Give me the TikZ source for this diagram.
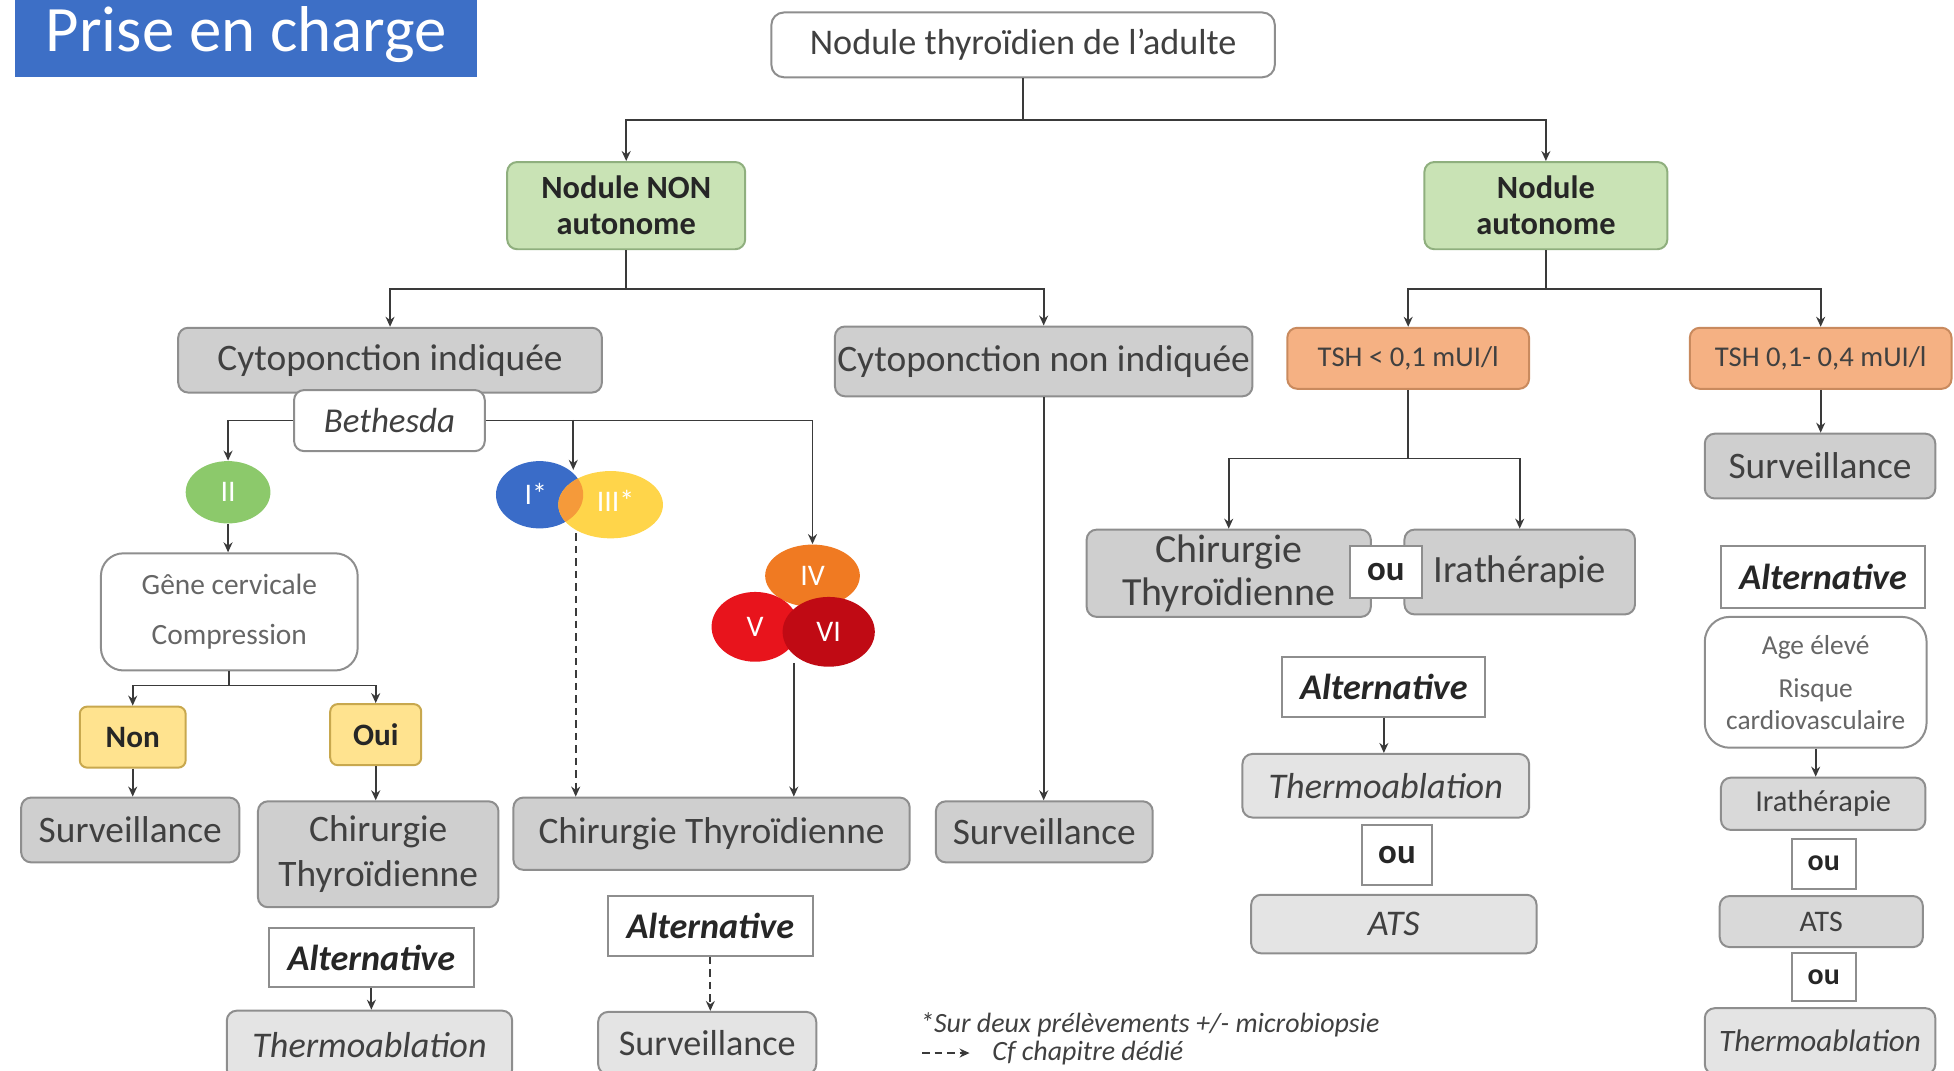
\documentclass[tikz,border=0pt]{standalone}
\usepackage{fontspec}
\setmainfont{Carlito}
\usetikzlibrary{shapes.geometric,arrows.meta}

\definecolor{ink}{HTML}{404040}
\definecolor{wirecol}{HTML}{3A3A3A}
\definecolor{titleblue}{HTML}{3D6FC6}
\definecolor{greenfill}{HTML}{C9E3B5}
\definecolor{greenedge}{HTML}{8FAF7E}
\definecolor{grayfill}{HTML}{CFCFCF}
\definecolor{grayedge}{HTML}{8E8E8E}
\definecolor{lightfill}{HTML}{E4E4E4}
\definecolor{orangefill}{HTML}{F5B183}
\definecolor{orangeedge}{HTML}{C98A5E}
\definecolor{yellowfill}{HTML}{FFE38F}
\definecolor{yellowedge}{HTML}{C8A84E}
\definecolor{cIIcol}{HTML}{8CC96B}
\definecolor{cIcol}{HTML}{3A6CC8}
\definecolor{cIIIcol}{HTML}{FFD54A}
\definecolor{cmix}{HTML}{F59A3A}
\definecolor{cIVcol}{HTML}{F07A22}
\definecolor{cVcol}{HTML}{E8141C}
\definecolor{cVIcol}{HTML}{C00A14}

\tikzset{
  box/.style={draw=grayedge, line width=0.8pt, inner sep=0pt, align=center, text=ink},
  graybox/.style={box, fill=grayfill, rounded corners=4pt, font=\fontsize{15}{18}\selectfont},
  lightbox/.style={box, fill=lightfill, rounded corners=4pt, font=\itshape\fontsize{14.5}{17}\selectfont},
  whitebox/.style={box, fill=white, rounded corners=5pt},
  altbox/.style={box, fill=white, text=black!85, font=\bfseries\itshape\fontsize{14.5}{17}\selectfont},
  oubox/.style={box, fill=white, text=black!85, font=\bfseries\fontsize{14}{16}\selectfont},
  greenbox/.style={box, draw=greenedge, fill=greenfill, rounded corners=4pt, text=black!85,
    font=\bfseries\fontsize{13}{14.5}\selectfont},
  tshbox/.style={box, draw=orangeedge, fill=orangefill, rounded corners=4pt, font=\fontsize{11.5}{14}\selectfont},
  ynbox/.style={box, draw=yellowedge, fill=yellowfill, rounded corners=3pt, text=black!85,
    font=\bfseries\fontsize{12.5}{14}\selectfont},
  cat/.style={ellipse, inner sep=0pt, text=white, font=\fontsize{12}{14}\selectfont},
  wire/.style={draw=wirecol, line width=0.7pt},
  conn/.style={wire, -{Stealth[length=4pt,width=3.6pt]}},
  note/.style={anchor=west, inner sep=0pt, text=ink, font=\itshape\fontsize{11.2}{13}\selectfont},
}
% box given by its two corners (one unit = 0.5pt)
\newcommand\bx[7]{%
  \pgfmathsetmacro\bxcx{(#3+#5)/2}\pgfmathsetmacro\bxcy{(#4+#6)/2}%
  \pgfmathsetmacro\bxw{(#5-#3)*0.5}\pgfmathsetmacro\bxh{(#6-#4)*0.5}%
  \node[#2, minimum width=\bxw pt, minimum height=\bxh pt] (#1) at (\bxcx,\bxcy) {#7};}

\begin{document}
\begin{tikzpicture}[x=0.5pt, y=-0.5pt]
\useasboundingbox (0,0) rectangle (1568,859);
\clip (0,0) rectangle (1568,859);

% title
\bx{title}{fill=titleblue, inner sep=0pt, text=white, font=\fontsize{26}{30}\selectfont}{12}{-6}{383}{62}{Prise en charge}

% top levels
\bx{root}{whitebox, font=\fontsize{14.5}{17}\selectfont}{619}{10}{1023}{62}{Nodule thyroïdien de l'adulte}
\bx{non}{greenbox}{407}{130}{598}{200}{Nodule NON\\autonome}
\bx{auto}{greenbox}{1143}{130}{1338}{200}{Nodule\\autonome}

% non autonomous branch
\bx{cyi}{graybox}{143}{263}{483}{315}{Cytoponction indiquée}
\bx{beth}{whitebox, rounded corners=4pt, font=\itshape\fontsize{14}{16}\selectfont}{236}{313}{389}{362}{Bethesda}
\bx{cyn}{graybox}{670}{262}{1005}{318}{Cytoponction non indiquée}

\bx{gene}{whitebox, rounded corners=9pt, text=black!60, font=\fontsize{11.8}{14}\selectfont}{81}{444}{287}{538}{Gêne cervicale\\[6pt]Compression}
\bx{nonb}{ynbox}{64}{567}{149}{616}{Non}
\bx{oui}{ynbox}{265}{565}{338}{614}{Oui}
\bx{survl}{graybox}{17}{640}{192}{692}{Surveillance}
\bx{chl}{graybox}{207}{643}{400}{728}{Chirurgie\\Thyroïdienne}
\bx{altl}{altbox}{216}{745}{380}{792}{Alternative}
\bx{thl}{lightbox}{182}{811}{411}{866}{Thermoablation}

\bx{chm}{graybox}{412}{640}{730}{698}{Chirurgie Thyroïdienne}
\bx{altm}{altbox}{488}{719}{652}{767}{Alternative}
\bx{survm}{lightbox, font=\fontsize{14.5}{17}\selectfont}{480}{812}{655}{862}{Surveillance}
\bx{survr}{graybox}{751}{643}{925}{692}{Surveillance}

% Bethesda categories
\node[cat, fill=cIIcol, minimum width=34pt, minimum height=25pt] (cII) at (183,395) {II};
\node[cat, fill=cIcol, minimum width=35pt, minimum height=27pt] (cI) at (433,397) {};
\node[cat, fill=cIIIcol, minimum width=42pt, minimum height=27pt] (cIII) at (490,405) {};
\begin{scope}
  \clip (433,397) ellipse [x radius=17.5pt, y radius=13.5pt];
  \fill[cmix] (490,405) ellipse [x radius=21pt, y radius=13.5pt];
\end{scope}
\node[cat] (tI) at (430,396) {I*};
\node[cat] (tIII) at (494,402) {III*};
\node[cat, fill=cIVcol, minimum width=38pt, minimum height=25pt] (cIV) at (652,462) {IV};
\node[cat, fill=cVcol, minimum width=35pt, minimum height=28pt] (cV) at (606,503) {V};
\node[cat, fill=cVIcol, minimum width=37pt, minimum height=28pt] (cVI) at (665,507) {VI};

% autonomous branch
\bx{tsha}{tshbox}{1033}{263}{1227}{312}{TSH < 0,1 mUI/l}
\bx{tshb}{tshbox}{1356}{263}{1566}{312}{TSH 0,1- 0,4 mUI/l}
\bx{chr}{graybox, font=\fontsize{16}{17}\selectfont}{872}{425}{1100}{495}{Chirurgie\\Thyroïdienne}
\bx{irr}{graybox, font=\fontsize{15.5}{18}\selectfont}{1127}{425}{1312}{493}{Irathérapie}
\bx{our}{oubox}{1083}{438}{1141}{480}{ou}
\bx{altr}{altbox}{1029}{527}{1192}{575}{Alternative}
\bx{thr}{lightbox}{997}{605}{1227}{656}{Thermoablation}
\bx{oub}{oubox}{1093}{662}{1149}{710}{ou}
\bx{atsr}{lightbox}{1004}{718}{1233}{765}{ATS}

\bx{survfr}{graybox}{1368}{348}{1553}{400}{Surveillance}
\bx{altfr}{altbox}{1381}{438}{1545}{488}{Alternative}
\bx{agefr}{whitebox, rounded corners=10pt, text=black!60, font=\fontsize{11}{12.5}\selectfont}{1368}{495}{1546}{600}{Age élevé\\[5pt]Risque\\cardiovasculaire}
\bx{irfr}{lightbox, fill=grayfill!80, font=\fontsize{12.2}{14}\selectfont}{1381}{624}{1545}{666}{Irathérapie}
\bx{oufr}{oubox, font=\bfseries\fontsize{12}{14}\selectfont}{1438}{673}{1489}{713}{ou}
\bx{atsfr}{lightbox, fill=grayfill!80, font=\fontsize{12}{14}\selectfont}{1380}{719}{1543}{760}{ATS}
\bx{oufs}{oubox, font=\bfseries\fontsize{12}{14}\selectfont}{1438}{765}{1489}{803}{ou}
\bx{thfr}{lightbox, font=\itshape\fontsize{12.5}{14}\selectfont}{1368}{809}{1553}{862}{Thermoablation}

% junction points
\coordinate (j1) at (821,96);
\coordinate (j2) at (502.5,232);
\coordinate (j3) at (184,550);
\coordinate (j4) at (1240.5,232);
\coordinate (j5) at (1130,368);
\coordinate (b3) at (460,337);
\coordinate (ctop) at (460,377);
\coordinate (cbot) at (462,428);
\coordinate (vbot) at (637,532);

% connectors
\draw[wire] (root.south) -- (j1);
\draw[conn] (j1) -| (non.north);
\draw[conn] (j1) -| (auto.north);

\draw[wire] (non.south) -- (j2);
\draw[conn] (j2) -| (cyi.north);
\draw[conn] (j2) -| (cyn.north);

\draw[conn] (beth.west) -| (cII.north);
\draw[conn] (beth.east) -| (cIV.north);
\draw[conn] (b3) -- (ctop);
\draw[conn, dash pattern=on 3pt off 2pt] (cbot) -- (cbot |- chm.north);
\draw[conn] (vbot) -- (vbot |- chm.north);

\draw[conn] (cII.south) -- (cII.south |- gene.north);
\draw[wire] (gene.south) -- (j3);
\draw[conn] (j3) -| (nonb.north);
\draw[conn] (j3) -| (oui.north);
\draw[conn] (nonb.south) -- (nonb.south |- survl.north);
\draw[conn] (oui.south) -- (oui.south |- chl.north);
\draw[conn] (altl.south) -- (altl.south |- thl.north);
\draw[conn, dash pattern=on 3pt off 2pt] (altm.south) -- (altm.south |- survm.north);
\draw[conn] (cyn.south) -- (cyn.south |- survr.north);

\draw[wire] (auto.south) -- (j4);
\draw[conn] (j4) -| (tsha.north);
\draw[conn] (j4) -| (tshb.north);
\draw[wire] (tsha.south) -- (j5);
\draw[conn] (j5) -| (chr.north);
\draw[conn] (j5) -| (irr.north);
\draw[conn] (altr.south) -- (altr.south |- thr.north);
\draw[conn] (tshb.south) -- (tshb.south |- survfr.north);
\draw[conn] (agefr.south) -- (agefr.south |- irfr.north);

% notes
\node[note] (fn1) at (738,822) {*Sur deux prélèvements +/- microbiopsie};
\coordinate (lg1) at (740,845);
\coordinate (lg2) at (778,845);
\draw[conn, dash pattern=on 3pt off 2pt] (lg1) -- (lg2);
\node[note] (fn2) at (796,845) {Cf chapitre dédié};
\end{tikzpicture}
\end{document}
